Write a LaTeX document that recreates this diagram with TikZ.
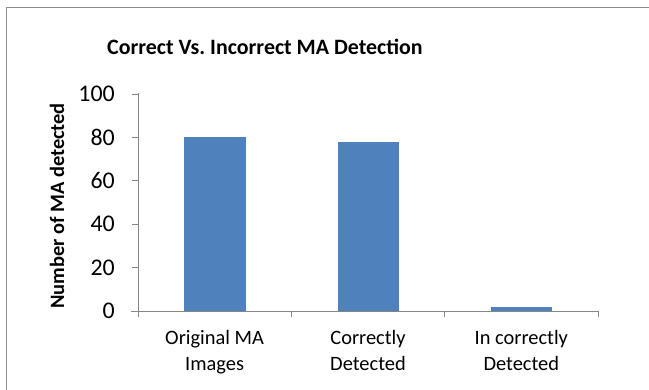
\documentclass[tikz,border=0pt]{standalone}
\usepackage{fontspec}
\setmainfont{Carlito}
\frenchspacing
\definecolor{barblue}{HTML}{4F81BD}
\definecolor{axisgray}{HTML}{868686}
\definecolor{framegray}{HTML}{8C8C8C}
\begin{document}
\begin{tikzpicture}[x=1bp,y=-1bp,
  bar/.style={fill=barblue,draw=none},
  axisline/.style={draw=axisgray,line width=1bp},
  ticklbl/.style={font=\fontsize{24}{26}\selectfont,anchor=east,inner sep=0pt},
  catlbl/.style={font=\fontsize{20.5}{26}\selectfont,align=center,anchor=north,inner sep=0pt},
  titlelbl/.style={font=\bfseries\fontsize{22}{24}\selectfont,inner sep=0pt},
  ylbl/.style={font=\bfseries\fontsize{20.5}{24}\selectfont,rotate=90,inner sep=0pt}]
\useasboundingbox (0,0) rectangle (649,389);
\fill[white] (0,0) rectangle (649,389);
% outer chart frame (only top and left visible)
\draw[framegray,line width=1.5bp] (6.7,400) -- (6.7,7.5) -- (660,7.5);
% title
\node[titlelbl] (title) at (265,47) {Correct Vs.\ Incorrect MA Detection};
% y axis label
\node[ylbl] (ylab) at (57,206) {Number of MA detected};
% bars (value 1 unit = 2.17 px)
\coordinate (b0) at (138,311);
\fill[bar] (184,311) rectangle (246,137.4) coordinate (bar1);
\fill[bar] (338,311) rectangle (399,141.7) coordinate (bar2);
\fill[bar] (491,311) rectangle (552,306.7) coordinate (bar3);
% axes
\draw[axisline] (138,93) -- (138,311);
\draw[axisline] (131,311) -- (598,311);
\foreach \v/\y in {0/311,20/267.6,40/224.2,60/180.8,80/137.4,100/94}{
  \draw[axisline] (132,\y) -- (138,\y);
  \node[ticklbl] (t\v) at (115,\y) {\v};
}
\foreach \x in {138,291.3,444.7,598}{
  \draw[axisline] (\x,311) -- (\x,317);
}
% category labels
\node[catlbl] (c1) at (214.6,330) {Original MA\\Images};
\node[catlbl] (c2) at (368,330) {Correctly\\Detected};
\node[catlbl] (c3) at (521.3,330) {In correctly\\Detected};
\end{tikzpicture}
\end{document}
